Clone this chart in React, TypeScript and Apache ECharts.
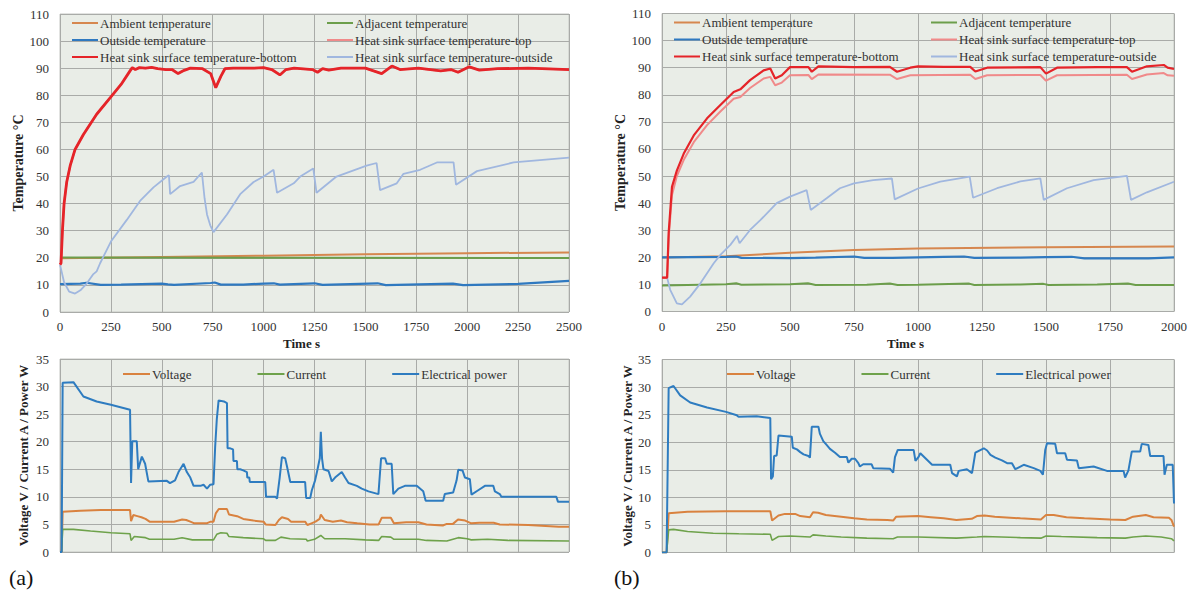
import React, { useEffect, useRef } from "react";
import * as echarts from "echarts";

// ---------- Tick settings ----------
const tempTicks = { min: 0, max: 110, interval: 10 };
const elecTicks = { min: 0, max: 35, interval: 5 };
const timeA = { min: 0, max: 2500, interval: 250 };
const timeB = { min: 0, max: 2000, interval: 250 };

// ---------- Series names ----------
const N_AMB = "Ambient temperature";
const N_ADJ = "Adjacent temperature";
const N_OUT = "Outside temperature";
const N_TOP = "Heat sink surface temperature-top";
const N_BOT = "Heat sink surface temperature-bottom";
const N_HSO = "Heat sink surface temperature-outside";
const N_V = "Voltage";
const N_I = "Current";
const N_P = "Electrical power";

// ---------- (a) temperatures [time s, °C] ----------
const ambientA = [[0, 19.8], [500, 20.3], [1000, 20.8], [1500, 21.3], [2000, 21.7], [2500, 22]];
const adjacentA = [[0, 20.1], [1250, 20], [2500, 19.9]];
const outsideA = [[0, 10.3], [100, 10.5], [130, 10.8], [200, 10], [300, 10.1], [500, 10.5], [530, 10.2], [560, 10], [740, 10.7], [760, 10.9], [790, 10.1], [900, 10.1], [1000, 10.5], [1050, 10.6], [1080, 10.1], [1250, 10.6], [1290, 10], [1560, 10.6], [1600, 9.9], [1930, 10.5], [1980, 9.9], [2250, 10.4], [2500, 11.5]];
const hsBottomA = [[0, 17.5], [5, 18], [12, 30], [20, 40], [33, 48], [50, 54], [74, 60], [115, 65.5], [180, 73], [250, 79.4], [300, 84], [344, 89], [355, 90.2], [370, 89.5], [390, 90.2], [420, 90], [450, 90.3], [480, 89.8], [520, 89.5], [550, 89.5], [580, 88], [610, 89.2], [640, 90], [700, 89.8], [740, 88], [765, 82.8], [790, 87], [810, 89.8], [850, 90], [950, 90], [1000, 90.2], [1040, 89.5], [1080, 87.5], [1110, 89.5], [1150, 90], [1240, 89.5], [1265, 88.5], [1290, 89.8], [1320, 89.3], [1380, 90], [1500, 90], [1580, 88], [1630, 90.8], [1670, 89.5], [1760, 90], [1870, 89], [1920, 89.5], [1955, 88.5], [2010, 90.5], [2060, 89.3], [2150, 89.8], [2300, 90], [2500, 89.5]];
// top sensor is hidden under the bottom curve in (a)
const hsTopA = [[0, 17.5], [5, 18], [12, 30], [20, 40], [33, 48], [50, 54], [74, 60], [115, 65.5], [180, 73], [250, 79.4], [300, 84], [344, 89], [355, 90.2], [370, 89.5], [390, 90.2], [420, 90], [450, 90.3], [480, 89.8], [520, 89.5], [550, 89.5], [580, 88], [610, 89.2], [640, 90], [700, 89.8], [740, 88], [765, 82.8], [790, 87], [810, 89.8], [850, 90], [950, 90], [1000, 90.2], [1040, 89.5], [1080, 87.5], [1110, 89.5], [1150, 90], [1240, 89.5], [1265, 88.5], [1290, 89.8], [1320, 89.3], [1380, 90], [1500, 90], [1580, 88], [1630, 90.8], [1670, 89.5], [1760, 90], [1870, 89], [1920, 89.5], [1955, 88.5], [2010, 90.5], [2060, 89.3], [2150, 89.8], [2300, 90], [2500, 89.5]];
const hsOutsideA = [[0, 17.5], [20, 11], [45, 7.5], [74, 6.8], [100, 8], [131, 10.5], [164, 14], [180, 15], [197, 18], [250, 26], [328, 34], [393, 41], [459, 46], [525, 50], [535, 50.5], [541, 43.5], [590, 46.5], [656, 48], [697, 51.5], [710, 42], [722, 36], [738, 32], [754, 29.5], [820, 36], [885, 43.5], [951, 48], [1000, 50], [1049, 52.5], [1066, 44], [1148, 47.5], [1180, 50], [1244, 53], [1260, 44], [1358, 50], [1506, 54], [1555, 55], [1572, 45], [1654, 47.5], [1687, 51], [1769, 52.5], [1851, 55.2], [1933, 55.2], [1945, 47], [2048, 52], [2228, 55.2], [2500, 57]];

// ---------- (a) electrical [time s, value] ----------
const powerA = [[0, 0], [8, 0], [13, 30.7], [66, 30.8], [115, 28.2], [180, 27.3], [250, 26.7], [344, 25.8], [349, 12.5], [355, 20.1], [377, 20.1], [384, 15], [402, 17.3], [418, 16], [434, 12.8], [525, 12.9], [540, 12.5], [565, 13], [582, 14.5], [607, 16], [623, 14.5], [640, 13.5], [656, 12], [690, 12], [705, 12.2], [722, 11.5], [738, 12.2], [754, 12.3], [762, 19], [770, 24], [779, 27.5], [805, 27.3], [820, 27], [823, 18.8], [836, 18.8], [850, 18.6], [852, 16.5], [869, 16.5], [871, 15], [885, 15], [900, 14.8], [918, 14.5], [920, 13.5], [930, 13.5], [932, 12.7], [1008, 12.7], [1012, 10], [1058, 10], [1066, 9.7], [1079, 13.5], [1090, 17.2], [1106, 17], [1115, 15.5], [1131, 12.7], [1204, 12.7], [1209, 9.8], [1229, 9.8], [1237, 11.2], [1253, 13], [1265, 15], [1276, 17], [1281, 21.8], [1287, 17], [1294, 15], [1319, 14.7], [1335, 12.8], [1351, 13.5], [1384, 14.5], [1400, 13.5], [1417, 12.5], [1458, 12], [1482, 11.5], [1515, 11], [1564, 10.5], [1577, 17], [1597, 17], [1605, 16], [1629, 16], [1637, 10.5], [1662, 11.5], [1694, 12], [1752, 12], [1784, 11], [1796, 9.3], [1882, 9.3], [1890, 10.5], [1931, 10.8], [1948, 13], [1956, 14.9], [1977, 14.8], [1989, 13.5], [2013, 13.2], [2021, 10.4], [2054, 11.2], [2087, 12], [2128, 12], [2136, 11], [2160, 10.5], [2168, 10], [2438, 10], [2446, 9.1], [2500, 9.1]];
const voltageA = [[0, 0], [8, 0], [13, 7.3], [100, 7.5], [200, 7.6], [344, 7.6], [349, 5.6], [360, 6.7], [380, 6.5], [400, 6.3], [420, 6], [440, 5.5], [560, 5.5], [600, 5.9], [620, 5.8], [640, 5.5], [660, 5.2], [720, 5.2], [740, 5.5], [754, 5.5], [765, 7], [780, 7.8], [820, 7.8], [830, 6.8], [870, 6.5], [900, 6], [950, 5.7], [1000, 5.5], [1010, 5], [1058, 4.9], [1075, 5.8], [1090, 6.3], [1120, 6], [1135, 5.5], [1204, 5.5], [1215, 4.9], [1235, 5.2], [1255, 5.5], [1275, 6], [1281, 6.8], [1300, 5.8], [1340, 5.5], [1380, 5.7], [1410, 5.4], [1460, 5.2], [1520, 5], [1565, 5], [1580, 6.2], [1625, 6.2], [1640, 5.2], [1700, 5.4], [1760, 5.4], [1800, 5], [1880, 4.8], [1900, 5.1], [1930, 5.1], [1955, 5.9], [1990, 5.7], [2020, 5.2], [2060, 5.3], [2130, 5.3], [2160, 5], [2300, 4.9], [2450, 4.6], [2500, 4.6]];
const currentA = [[0, 0], [8, 0], [13, 4.1], [66, 4.1], [150, 3.8], [250, 3.5], [344, 3.3], [349, 2.1], [365, 2.8], [420, 2.6], [440, 2.3], [560, 2.3], [600, 2.6], [650, 2.2], [754, 2.2], [770, 3.2], [790, 3.5], [820, 3.4], [830, 2.8], [900, 2.6], [1000, 2.4], [1010, 2.1], [1058, 2.1], [1085, 2.7], [1130, 2.4], [1210, 2.3], [1215, 2], [1250, 2.3], [1281, 3], [1300, 2.4], [1400, 2.4], [1500, 2.2], [1565, 2.1], [1580, 2.8], [1625, 2.7], [1640, 2.3], [1760, 2.3], [1800, 2.1], [1900, 2], [1956, 2.6], [2000, 2.4], [2020, 2.2], [2100, 2.3], [2200, 2.1], [2500, 2]];

// ---------- (b) temperatures ----------
const ambientB = [[0, 19.9], [250, 20.4], [500, 21.7], [750, 22.7], [1000, 23.3], [1500, 23.7], [2000, 24]];
const adjacentB = [[0, 9.6], [250, 10.1], [290, 10.4], [310, 9.9], [500, 10.1], [570, 10.4], [600, 9.8], [800, 9.9], [890, 10.3], [920, 9.8], [1000, 9.9], [1200, 10.3], [1220, 9.8], [1400, 10], [1490, 10.2], [1510, 9.8], [1700, 10], [1820, 10.3], [1850, 9.8], [2000, 9.8]];
const outsideB = [[0, 20], [250, 20.2], [290, 20.3], [310, 19.8], [500, 19.7], [600, 19.9], [750, 20.3], [790, 19.8], [900, 19.8], [1100, 20.2], [1180, 20.3], [1220, 19.8], [1400, 19.9], [1500, 20.1], [1600, 20.2], [1650, 19.6], [1900, 19.6], [2000, 20]];
const hsBottomB = [[0, 12.5], [20, 12.5], [26, 29], [39, 46], [58, 52], [85, 58.3], [124, 65], [176, 71.3], [228, 76.2], [280, 81], [306, 82], [344, 85.4], [397, 89], [423, 89.7], [442, 86], [468, 87.2], [500, 90.2], [572, 90.2], [585, 88.5], [611, 90.5], [750, 90.2], [890, 90.3], [918, 88.5], [970, 90], [1000, 90.5], [1100, 90.3], [1204, 90.3], [1224, 88.6], [1270, 90], [1478, 90.2], [1500, 87.8], [1543, 90], [1700, 90.2], [1816, 90.2], [1836, 88.5], [1894, 90.5], [1960, 91], [1975, 90], [2000, 89.5]];
const hsTopB = [[0, 12.5], [20, 12.5], [26, 27], [39, 43], [58, 50], [85, 56], [124, 62.5], [176, 68.8], [228, 73.8], [280, 78.5], [306, 79.2], [344, 82.5], [397, 86], [423, 86.6], [442, 83.5], [468, 84.5], [500, 87.2], [572, 87.3], [585, 85.8], [611, 87.5], [890, 87.4], [918, 85.8], [970, 87.2], [1204, 87.4], [1224, 85.8], [1270, 87.2], [1478, 87.3], [1500, 85.2], [1543, 87.2], [1816, 87.4], [1836, 85.8], [1894, 87.5], [1960, 88], [1975, 87.2], [2000, 87]];
const hsOutsideB = [[0, 12.5], [20, 12.5], [32, 8], [58, 3], [78, 2.6], [110, 5.5], [150, 10.4], [202, 17.8], [228, 20.9], [267, 24.6], [293, 27.9], [303, 25.2], [344, 30.1], [384, 33.7], [423, 37.5], [448, 40], [500, 42.4], [565, 44.8], [581, 37.5], [643, 41.8], [695, 45.5], [750, 47.3], [825, 48.5], [898, 49.1], [909, 41.4], [1000, 45.4], [1087, 47.9], [1202, 49.8], [1215, 42], [1309, 45.5], [1400, 48], [1478, 49.1], [1491, 41.2], [1582, 45.5], [1686, 48.5], [1816, 50.1], [1832, 41.2], [1894, 44], [2000, 47.9]];

// ---------- (b) electrical ----------
const powerB = [[0, 0], [18, 0], [26, 29.8], [45, 30.2], [71, 28.5], [110, 27.2], [176, 26.3], [250, 25.5], [292, 24.9], [299, 24.6], [370, 24.7], [423, 24.4], [426, 13.3], [433, 13.8], [438, 17.5], [448, 17.6], [455, 21.2], [507, 21], [511, 19], [527, 18.7], [540, 18.2], [553, 17.8], [572, 17.5], [578, 17.2], [585, 22.8], [611, 22.8], [617, 21.5], [630, 20.2], [643, 19.5], [656, 18.8], [676, 18.1], [695, 17.3], [722, 17.3], [728, 16.3], [741, 17], [754, 17], [767, 16.2], [773, 15.6], [786, 16], [819, 16], [825, 15.3], [890, 15.2], [903, 14.5], [910, 17.3], [921, 18.6], [983, 18.6], [990, 16.6], [1003, 17.4], [1009, 18], [1029, 17.1], [1042, 16.5], [1055, 15.9], [1126, 15.9], [1133, 14.4], [1152, 13.8], [1159, 14.8], [1191, 15.1], [1211, 14.4], [1224, 18.1], [1257, 18.9], [1270, 18.5], [1283, 17.7], [1302, 17.2], [1328, 16.7], [1348, 16.2], [1367, 16.2], [1380, 15.1], [1413, 15.9], [1452, 15.3], [1478, 14.8], [1488, 14.1], [1497, 18.6], [1504, 19.8], [1536, 19.7], [1543, 18], [1575, 18], [1582, 16.8], [1621, 16.7], [1628, 15.3], [1686, 15.6], [1738, 14.8], [1803, 14.8], [1809, 13.6], [1822, 14.9], [1835, 18.3], [1868, 18.3], [1874, 19.7], [1900, 19.5], [1907, 17.5], [1959, 17.5], [1963, 14.1], [1972, 15.9], [1995, 15.9], [2000, 8.9]];
const voltageB = [[0, 0], [18, 0], [26, 7.1], [100, 7.4], [250, 7.5], [423, 7.5], [430, 5.8], [455, 6.7], [480, 7], [520, 7], [540, 6.6], [578, 6.4], [590, 7.3], [610, 7.2], [640, 6.8], [700, 6.5], [750, 6.2], [800, 6], [880, 5.9], [903, 5.8], [915, 6.5], [1000, 6.6], [1050, 6.4], [1100, 6.2], [1150, 5.9], [1210, 6.1], [1230, 6.6], [1260, 6.7], [1300, 6.5], [1400, 6.2], [1480, 6], [1500, 6.8], [1530, 6.8], [1580, 6.4], [1650, 6.2], [1750, 6], [1810, 5.9], [1840, 6.5], [1890, 6.8], [1920, 6.4], [1980, 6.3], [1990, 5.9], [2000, 4.7]];
const currentB = [[0, 0], [18, 0], [26, 4.1], [45, 4.2], [100, 3.8], [200, 3.5], [300, 3.4], [423, 3.3], [430, 2.2], [455, 2.9], [500, 3], [578, 2.8], [590, 3.2], [640, 3], [700, 2.8], [800, 2.6], [903, 2.5], [920, 2.8], [1000, 2.8], [1150, 2.6], [1230, 2.8], [1260, 2.9], [1400, 2.7], [1480, 2.6], [1500, 3], [1560, 2.9], [1700, 2.7], [1810, 2.6], [1840, 2.8], [1890, 3], [1950, 2.8], [1990, 2.5], [2000, 2.1]];

// ---------- style ----------
const FONT = "'Liberation Serif', 'Times New Roman', serif";
const C = {
  amb: "#d6874f",
  adj: "#6c9e4b",
  out: "#2f79c0",
  top: "#f08a8a",
  bot: "#e52429",
  hso: "#a0b7df",
  v: "#d9823f",
  i: "#6ea24b",
  p: "#2e7cc0",
};

export default function App() {
  const ref = useRef<HTMLDivElement>(null);
  useEffect(() => {
    if (!ref.current) return;
    const chart = echarts.init(ref.current, null, { renderer: "svg" });

    const line = (name: string, data: number[][], color: string, width: number, idx: number) => ({
      type: "line",
      name,
      data,
      xAxisIndex: idx,
      yAxisIndex: idx,
      symbol: "none",
      showSymbol: false,
      silent: true,
      lineStyle: { color, width },
      itemStyle: { color },
      z: 2,
    });

    const grids = [
      { left: 60, top: 14, width: 509, height: 298 },
      { left: 60, top: 359, width: 509, height: 193 },
      { left: 662, top: 13.5, width: 512, height: 298 },
      { left: 662, top: 359.5, width: 512, height: 193 },
    ].map((g) => ({
      ...g,
      show: true,
      backgroundColor: "#e9ede7",
      borderColor: "#c4c6c3",
      borderWidth: 1,
    }));

    const splitLine = { show: true, lineStyle: { color: "#a9aba8", width: 1 } };
    const labelStyle = { fontFamily: FONT, fontSize: 13, color: "#333" };

    const xAxis = [timeA, timeA, timeB, timeB].map((t, i) => ({
      type: "value",
      gridIndex: i,
      min: t.min,
      max: t.max,
      interval: t.interval,
      axisLine: { show: false },
      axisTick: { show: false },
      splitLine,
      axisLabel: { ...labelStyle, show: i % 2 === 0, margin: 8, formatter: (v: number) => String(v) },
    }));

    const nameGaps = [35, 30, 33, 27];
    const yAxis = [tempTicks, elecTicks, tempTicks, elecTicks].map((t, i) => ({
      type: "value",
      gridIndex: i,
      min: t.min,
      max: t.max,
      interval: t.interval,
      axisLine: { show: false },
      axisTick: { show: false },
      splitLine,
      axisLabel: { ...labelStyle, margin: 11 },
      name: i % 2 === 0 ? "Temperature °C" : "Voltage V / Current A / Power W",
      nameLocation: "middle",
      nameGap: nameGaps[i],
      nameTextStyle: {
        fontFamily: FONT,
        fontSize: i % 2 === 0 ? 14 : 13,
        fontWeight: "bold",
        color: "#222",
      },
    }));

    const legText = { fontFamily: FONT, fontSize: 13, color: "#333", lineHeight: 14, padding: [0, 0, 0, -3] };
    const vLegend = (left: number, top: number, data: string[]) => ({
      orient: "vertical",
      left,
      top,
      icon: "rect",
      itemWidth: 26,
      itemHeight: 2,
      itemGap: 3,
      padding: 0,
      selectedMode: false,
      data,
      textStyle: legText,
    });
    const hLegend = (left: number, top: number) => ({
      orient: "horizontal",
      left,
      top,
      icon: "rect",
      itemWidth: 27,
      itemHeight: 2,
      itemGap: 66,
      padding: 0,
      selectedMode: false,
      data: [N_V, N_I, N_P],
      textStyle: legText,
    });

    const option = {
      animation: false,
      backgroundColor: "#ffffff",
      grid: grids,
      xAxis,
      yAxis,
      legend: [
        vLegend(72, 16, [N_AMB, N_OUT, N_BOT]),
        vLegend(327, 16, [N_ADJ, N_TOP, N_HSO]),
        vLegend(674, 15.5, [N_AMB, N_OUT, N_BOT]),
        vLegend(931, 15.5, [N_ADJ, N_TOP, N_HSO]),
        hLegend(123, 367),
        hLegend(727, 367),
      ],
      series: [
        line(N_AMB, ambientA, C.amb, 2, 0),
        line(N_ADJ, adjacentA, C.adj, 2, 0),
        line(N_OUT, outsideA, C.out, 2.2, 0),
        line(N_HSO, hsOutsideA, C.hso, 1.8, 0),
        line(N_TOP, hsTopA, C.top, 2, 0),
        line(N_BOT, hsBottomA, C.bot, 2.8, 0),
        line(N_V, voltageA, C.v, 2, 1),
        line(N_I, currentA, C.i, 1.6, 1),
        line(N_P, powerA, C.p, 2, 1),
        line(N_AMB, ambientB, C.amb, 2, 2),
        line(N_ADJ, adjacentB, C.adj, 2, 2),
        line(N_OUT, outsideB, C.out, 2.2, 2),
        line(N_HSO, hsOutsideB, C.hso, 1.8, 2),
        line(N_TOP, hsTopB, C.top, 2, 2),
        line(N_BOT, hsBottomB, C.bot, 2.2, 2),
        line(N_V, voltageB, C.v, 2, 3),
        line(N_I, currentB, C.i, 1.6, 3),
        line(N_P, powerB, C.p, 2, 3),
      ],
      graphic: [
        { type: "text", left: 283, top: 337, style: { text: "Time s", font: `bold 13px ${FONT}`, fill: "#222" } },
        { type: "text", left: 887, top: 337, style: { text: "Time s", font: `bold 13px ${FONT}`, fill: "#222" } },
        { type: "text", left: 9, top: 566, style: { text: "(a)", font: `22px ${FONT}`, fill: "#111" } },
        { type: "text", left: 614, top: 566, style: { text: "(b)", font: `22px ${FONT}`, fill: "#111" } },
      ],
    };

    chart.setOption(option as any);
    return () => chart.dispose();
  }, []);

  return (
    <div
      ref={ref}
      style={{ position: "fixed", left: 0, top: 0, width: 1190, height: 598, background: "#fff" }}
    />
  );
}
